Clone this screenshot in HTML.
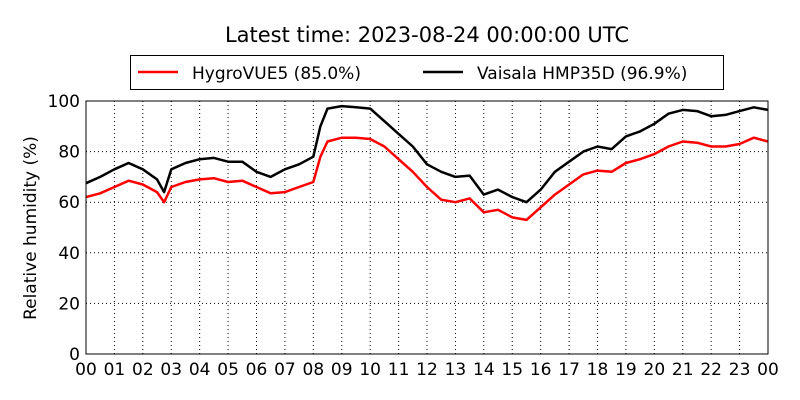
<!DOCTYPE html>
<html><head><meta charset="utf-8"><style>
body{margin:0;background:#fff;}
svg{display:block;font-family:"DejaVu Sans","Liberation Sans",sans-serif;}
</style></head><body>
<svg id="chart" width="800" height="400">
<text x="427" y="42" font-size="21" text-anchor="middle">Latest time: 2023-08-24 00:00:00 UTC</text>
<g id="grid"></g>
<g id="series"></g>
<rect x="86" y="101" width="682" height="253" fill="none" stroke="#000" stroke-width="1"/>
<g id="ticks"></g>
<text transform="translate(36,228) rotate(-90)" font-size="17" text-anchor="middle">Relative humidity (%)</text>
<g>
<rect x="130.5" y="55.5" width="593" height="34" fill="#fff" stroke="#000"/>
<g>
<line x1="138" y1="72" x2="178" y2="72" stroke="#f00" stroke-width="2.5"/>
<text x="192" y="79" font-size="17">HygroVUE5 (85.0%)</text></g>
<g>
<line x1="423" y1="72" x2="463" y2="72" stroke="#000" stroke-width="2.5"/>
<text x="477" y="79" font-size="17">Vaisala HMP35D (96.9%)</text></g>
</g>
</svg>
<script>
const hours=[0,0.5,1,1.5,2,2.5,2.75,3,3.5,4,4.5,5,5.5,6,6.5,7,7.5,8,8.25,8.5,9,9.5,10,10.5,11,11.5,12,12.5,13,13.5,14,14.5,15,15.5,16,16.5,17,17.5,18,18.5,19,19.5,20,20.5,21,21.5,22,22.5,23,23.5,24];
const vaisala=[67.5,70,73,75.5,73,69,64,73,75.5,77,77.5,76,76,72,70,73,75,78,90,97,98,97.5,97,92,87,82,75,72,70,70.5,63,65,62,60,65,72,76,80,82,81,86,88,91,95,96.5,96,94,94.5,96,97.5,96.5];
const hygro=[62,63.5,66,68.5,67,64,60,66,68,69,69.5,68,68.5,66,63.5,64,66,68,78,84,85.5,85.5,85,82,77,72,66,61,60,61.5,56,57,54,53,58,63,67,71,72.5,72,75.5,77,79,82,84,83.5,82,82,83,85.5,84];
const yTicks=[0,20,40,60,80,100];
const xTicks=["00","01","02","03","04","05","06","07","08","09","10","11","12","13","14","15","16","17","18","19","20","21","22","23","00"];
const NS="http://www.w3.org/2000/svg";
const X=h=>86+h*682/24, Y=v=>354-v*2.53;
const grid=document.getElementById('grid'),ticks=document.getElementById('ticks'),ser=document.getElementById('series');
function mk(tag,attrs,parent){const e=document.createElementNS(NS,tag);for(const k in attrs)e.setAttribute(k,attrs[k]);parent.appendChild(e);return e;}
yTicks.forEach(v=>{
  const g=mk('line',{x1:86,x2:768,y1:Y(v),y2:Y(v),stroke:'#000','stroke-dasharray':'1,3','stroke-width':1},grid);
  
  
  const t=mk('text',{x:80,y:Y(v)+6,'font-size':17,'text-anchor':'end'},ticks);
  t.textContent=v;
  
  
});
xTicks.forEach((s,i)=>{
  const g=mk('line',{x1:X(i),x2:X(i),y1:101,y2:354,stroke:'#000','stroke-dasharray':'1,3','stroke-width':1},grid);
  
  
  const t=mk('text',{x:X(i),y:375,'font-size':17,'text-anchor':'middle'},ticks);
  t.textContent=s;
  
  
});
function line(vals,color,name){
  const d=vals.map((v,i)=>(i?'L':'M')+X(hours[i]).toFixed(1)+','+Y(v).toFixed(1)).join('');
  const p=mk('path',{d:d,fill:'none',stroke:color,'stroke-width':2.5,'stroke-linejoin':'round'},ser);
  
  
}
line(hygro,'#f00','hygrovue5-line');
line(vaisala,'#000','vaisala-line');
</script>
</body></html>
